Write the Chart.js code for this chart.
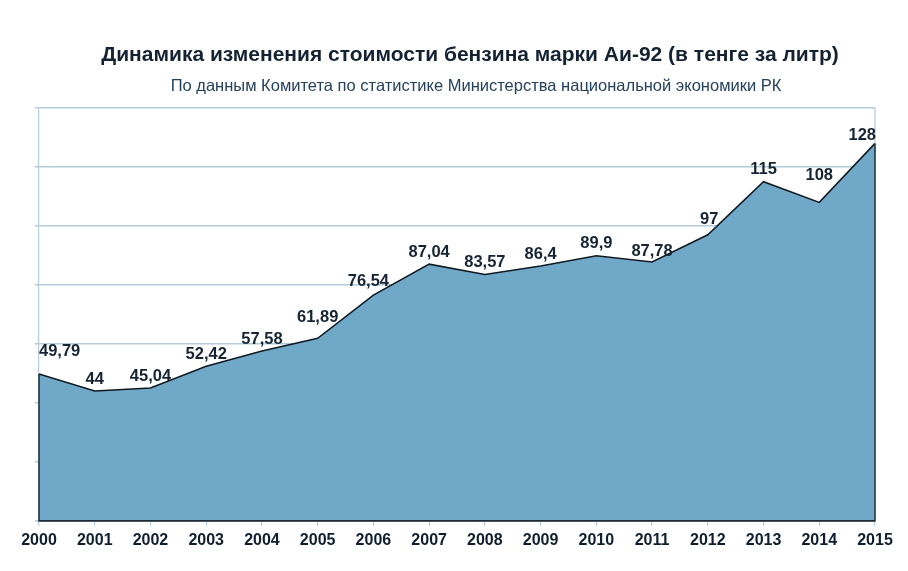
<!DOCTYPE html>
<html>
<head>
<meta charset="utf-8">
<script src="https://cdn.jsdelivr.net/npm/chart.js@4.4.1/dist/chart.umd.min.js"></script>
<style>
html,body{margin:0;padding:0;background:#fff;}
#wrap{width:908px;height:571px;position:relative;}
</style>
</head>
<body>
<div id="wrap"><canvas id="c" width="908" height="571"></canvas></div>
<script>
const titleText = 'Динамика изменения стоимости бензина марки Аи-92 (в тенге за литр)';
const subtitleText = 'По данным Комитета по статистике Министерства национальной экономики РК';
const years = ['2000','2001','2002','2003','2004','2005','2006','2007','2008','2009','2010','2011','2012','2013','2014','2015'];
const prices = [49.79, 44, 45.04, 52.42, 57.58, 61.89, 76.54, 87.04, 83.57, 86.4, 89.9, 87.78, 97, 115, 108, 128];
const yMin = 0, yMax = 140, yStep = 20;

const FONT = "'Liberation Sans', Arial, sans-serif";

const headerPlugin = {
  id: 'header',
  afterDraw(chart, args, o) {
    const ctx = chart.ctx;
    ctx.save();
    ctx.textAlign = 'center';
    ctx.textBaseline = 'middle';
    ctx.font = o.titleFont;
    ctx.fillStyle = o.titleColor;
    ctx.fillText(o.title, o.titleX, o.titleY);
    ctx.font = o.subFont;
    ctx.fillStyle = o.subColor;
    ctx.fillText(o.subtitle, o.subX, o.subY);
    ctx.restore();
  }
};

const outlinePlugin = {
  id: 'outline',
  afterDatasetsDraw(chart, args, o) {
    const meta = chart.getDatasetMeta(0);
    const pts = meta.data;
    if (!pts.length) return;
    const a = chart.chartArea;
    const ctx = chart.ctx;
    const first = pts[0], last = pts[pts.length - 1];
    ctx.save();
    ctx.lineWidth = o.frameWidth;
    ctx.strokeStyle = o.frameColor;
    ctx.beginPath();
    ctx.moveTo(a.right, a.top);
    ctx.lineTo(a.right, last.y);
    ctx.stroke();
    ctx.lineWidth = o.width;
    ctx.strokeStyle = o.color;
    ctx.beginPath();
    ctx.moveTo(first.x, first.y);
    ctx.lineTo(first.x, a.bottom);
    ctx.lineTo(last.x, a.bottom);
    ctx.lineTo(last.x, last.y);
    ctx.stroke();
    ctx.restore();
  }
};

const labelPlugin = {
  id: 'valueLabels',
  afterDatasetsDraw(chart, args, o) {
    const meta = chart.getDatasetMeta(0);
    const a = chart.chartArea;
    const ctx = chart.ctx;
    const data = chart.data.datasets[0].data;
    ctx.save();
    ctx.font = o.font;
    ctx.fillStyle = o.color;
    ctx.textAlign = 'left';
    ctx.textBaseline = 'middle';
    meta.data.forEach((pt, i) => {
      const txt = String(data[i]).replace('.', ',');
      const w = ctx.measureText(txt).width;
      const off = (o.offsets && o.offsets[i]) || [0, o.dy];
      let x = pt.x + off[0] - w / 2;
      x = Math.max(a.left, Math.min(a.right + 1 - w, x));
      ctx.fillText(txt, x, pt.y - off[1]);
    });
    ctx.restore();
  }
};

new Chart(document.getElementById('c'), {
  type: 'line',
  data: {
    labels: years,
    datasets: [{
      data: prices,
      fill: 'origin',
      backgroundColor: '#6fa9c7',
      borderColor: '#111a22',
      borderWidth: 1.5,
      pointRadius: 0,
      tension: 0
    }]
  },
  options: {
    responsive: false,
    animation: false,
    devicePixelRatio: 1,
    layout: { padding: { left: 35, right: 33, top: 108, bottom: 16 } },
    plugins: {
      legend: { display: false },
      tooltip: { enabled: false },
      title: { display: false },
      header: {
        title: titleText, subtitle: subtitleText,
        titleFont: "bold 21px " + FONT, titleColor: '#142233', titleX: 470, titleY: 55,
        subFont: "16.5px " + FONT, subColor: '#24415e', subX: 476, subY: 86
      },
      outline: { color: '#1e2c38', width: 1.5, frameColor: '#b3cbda', frameWidth: 1.2 },
      valueLabels: {
        font: "bold 16.5px " + FONT, color: '#162433', dy: 12,
        offsets: [[0,23],[0,12],[0,12],[0,12],[0,12],[0,21],[-5,14],[0,12],[0,12],[0,12],[0,12],[0,11],[1.5,15],[0,12],[0,27],[0,8]]
      }
    },
    scales: {
      x: {
        offset: false,
        grid: { drawOnChartArea: false, drawTicks: true, tickLength: 5, color: '#b3cbda', lineWidth: 1.2 },
        border: { display: true, color: '#1e2c38', width: 1.5 },
        ticks: {
          font: { family: FONT, size: 16, weight: 'bold' },
          color: '#0f1f2f',
          padding: 5,
          maxRotation: 0,
          autoSkip: false
        }
      },
      y: {
        min: yMin, max: yMax,
        grid: { color: '#b3cbda', lineWidth: 1.5, drawTicks: true, tickLength: 4 },
        border: { display: true, color: '#b3cbda', width: 1.2 },
        ticks: { display: false, stepSize: yStep }
      }
    }
  },
  plugins: [headerPlugin, outlinePlugin, labelPlugin]
});
</script>
</body>
</html>
